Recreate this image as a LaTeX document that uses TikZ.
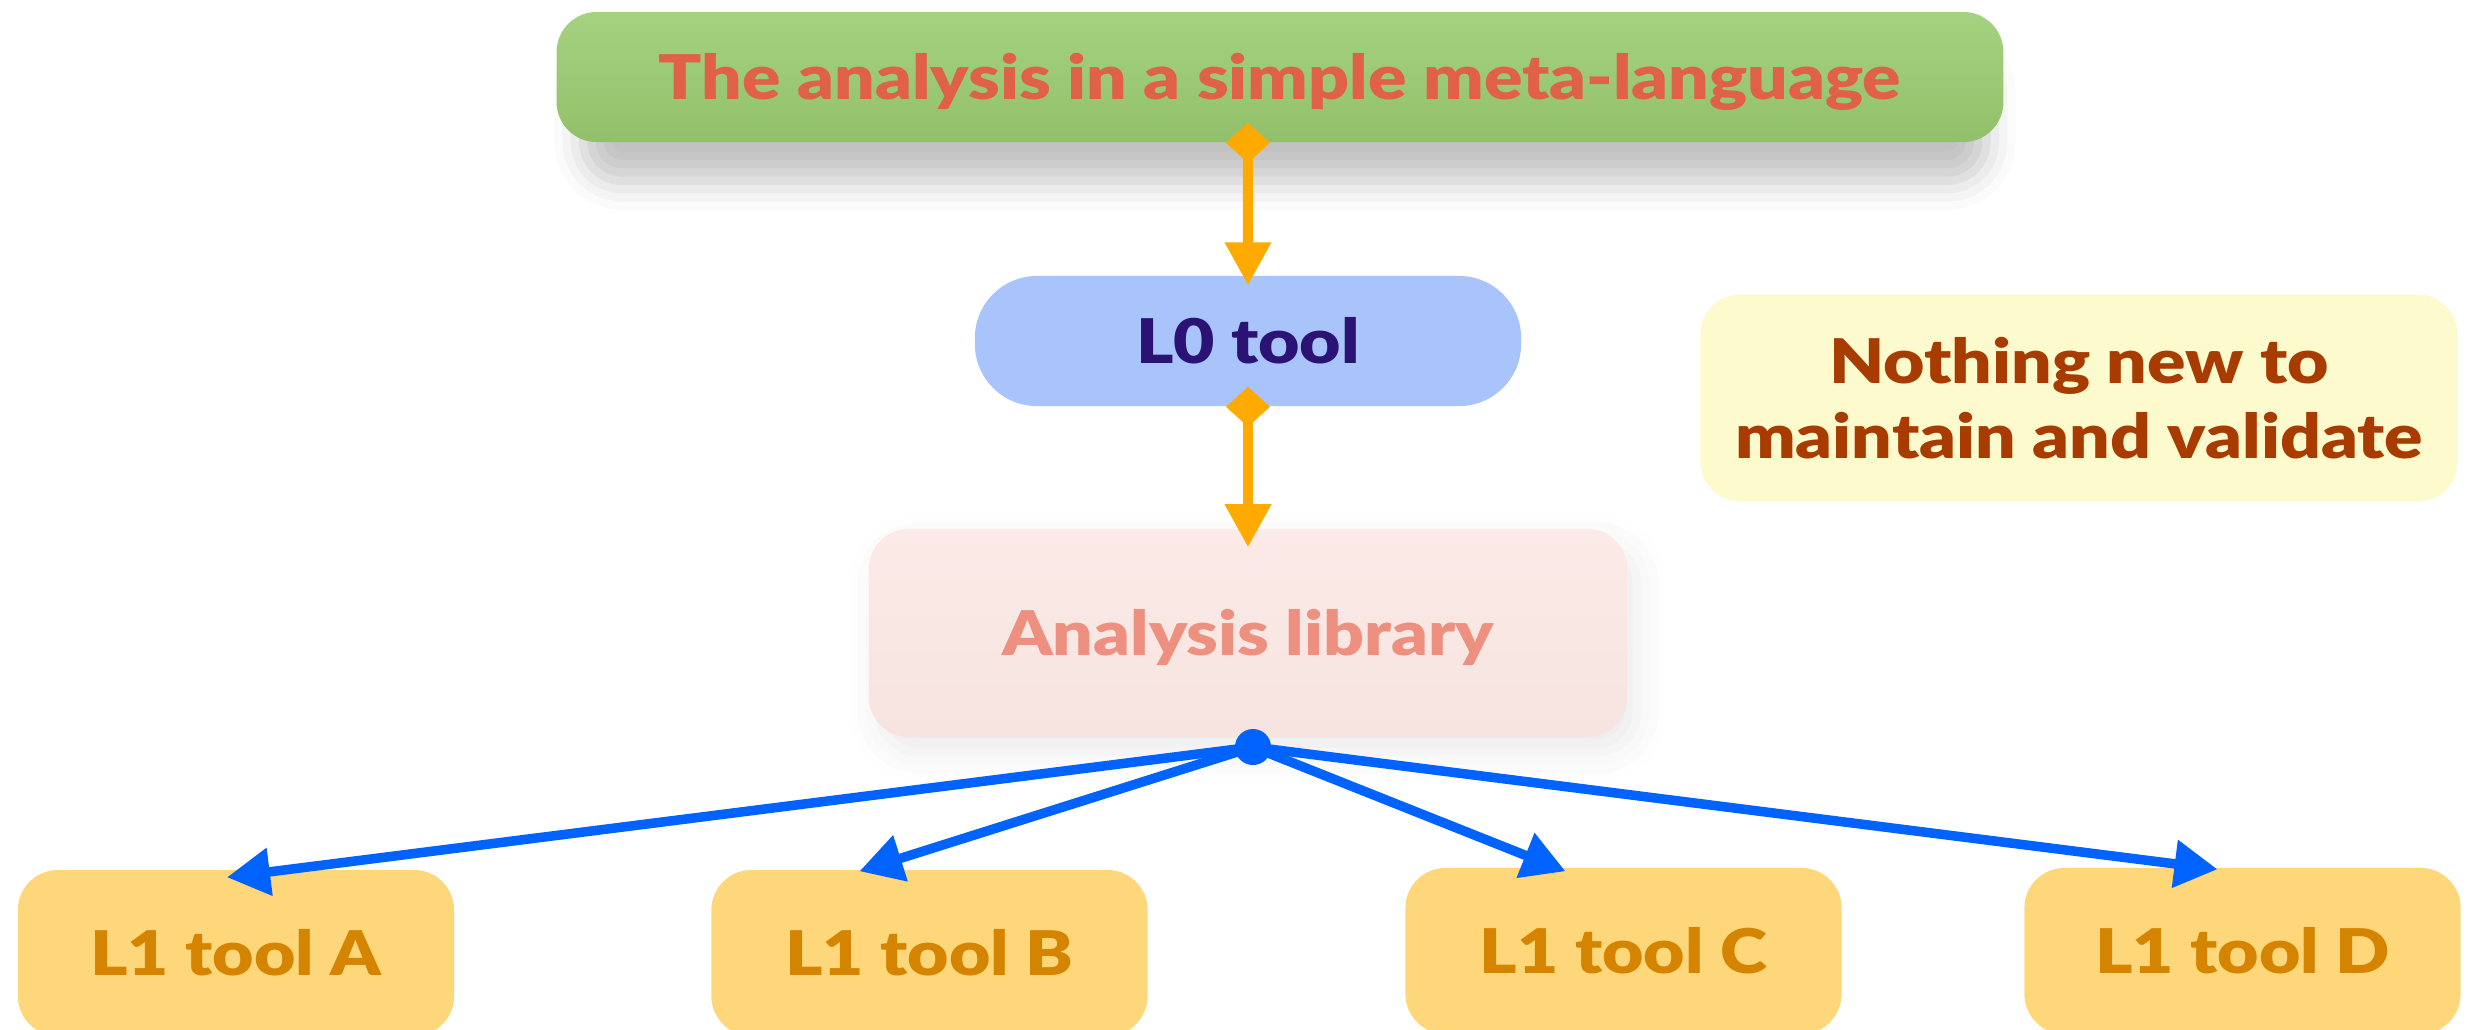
\documentclass[tikz,border=0pt]{standalone}
\usepackage{fontspec}
\setmainfont{Lato}
\newfontfamily\heavyfont{Lato Black}[FakeStretch=1.16]
\usetikzlibrary{arrows.meta,shadows.blur}
\definecolor{topfillA}{RGB}{164,210,128}
\definecolor{topfillB}{RGB}{146,192,106}
\definecolor{toptext}{RGB}{224,96,72}
\definecolor{lzfill}{RGB}{168,196,250}
\definecolor{lztext}{RGB}{43,18,117}
\definecolor{libfillA}{RGB}{251,234,231}
\definecolor{libfillB}{RGB}{247,228,225}
\definecolor{libtext}{RGB}{237,144,128}
\definecolor{lonefill}{RGB}{253,215,122}
\definecolor{lonetext}{RGB}{213,132,0}
\definecolor{notefill}{RGB}{253,250,205}
\definecolor{notetext}{RGB}{168,60,0}
\definecolor{orangeline}{RGB}{255,170,0}
\definecolor{blueline}{RGB}{0,98,255}
\tikzset{
  boxbase/.style={rectangle, rounded corners=0.4cm, inner sep=0pt,
    font=\heavyfont\fontsize{17.5}{20}\selectfont, text height=0.44cm, text depth=0pt},
  lonebox/.style={boxbase, fill=lonefill, text=lonetext, minimum width=4.36cm, minimum height=1.66cm},
  orangeconn/.style={draw=orangeline, line width=0.1cm,
    {Diamond[width=0.44cm,length=0.40cm]}-{Triangle[width=0.44cm,length=0.43cm]}},
  blueconn/.style={draw=blueline, line width=0.095cm, -{Triangle[width=0.46cm,length=0.43cm]}},
}
\begin{document}
\begin{tikzpicture}[x=0.01cm, y=-0.01cm]
\useasboundingbox (0,0) rectangle (2468,1029);
\clip (0,0) rectangle (2468,1029);
\node[boxbase, top color=topfillA, bottom color=topfillB, text=toptext,
  minimum width=14.46cm, minimum height=1.30cm,
  blur shadow={shadow xshift=0.05cm, shadow yshift=-0.42cm, shadow scale=0.97, shadow blur radius=0.3cm, shadow opacity=24}]
  (meta) at (1280,77) {The analysis in a simple meta-language};
\node[boxbase, rounded corners=0.62cm, fill=lzfill, text=lztext,
  minimum width=5.46cm, minimum height=1.30cm]
  (lzero) at (1248,341) {L0 tool};
\node[boxbase, top color=libfillA, bottom color=libfillB, text=libtext, minimum width=7.58cm, minimum height=2.08cm,
  blur shadow={shadow xshift=0.1cm, shadow yshift=-0.15cm, shadow blur radius=0.3cm, shadow opacity=8}]
  (lib) at (1248,633) {Analysis library};
\node[boxbase, fill=notefill, text=notetext, minimum width=7.57cm, minimum height=2.07cm,
  align=center, text height=, text depth=, font=\heavyfont\fontsize{17.5}{21.3}\selectfont]
  (note) at (2079,398) {Nothing new to\\maintain and validate};
\node[lonebox] (la) at (236,953) {L1 tool A};
\node[lonebox] (lb) at (929.5,953) {L1 tool B};
\node[lonebox] (lc) at (1623.5,951) {L1 tool C};
\node[lonebox] (ld) at (2242.5,951) {L1 tool D};
\draw[orangeconn] ([xshift=-0.32cm, yshift=0.2cm]meta.south) -- ([yshift=-0.1cm]lzero.north);
\draw[orangeconn] ([yshift=0.2cm]lzero.south) -- ([yshift=-0.19cm]lib.north);
\node[circle, fill=blueline, minimum size=0.36cm, inner sep=0pt] (hub) at (1253,747) {};
\draw[blueconn] (hub.center) -- ([xshift=-0.09cm, yshift=-0.08cm]la.north);
\draw[blueconn] (hub.center) -- ([xshift=-0.70cm, yshift=-0.02cm]lb.north);
\draw[blueconn] (hub.center) -- ([xshift=-0.58cm, yshift=-0.04cm]lc.north);
\draw[blueconn] (hub.center) -- ([xshift=-0.25cm, yshift=-0.02cm]ld.north);
\end{tikzpicture}
\end{document}
